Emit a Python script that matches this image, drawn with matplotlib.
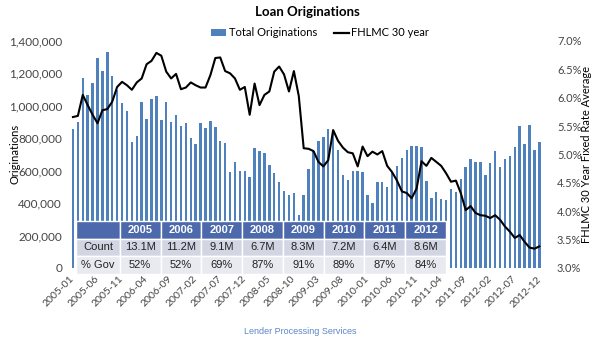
import matplotlib
matplotlib.use("Agg")
import matplotlib.pyplot as plt
from matplotlib.lines import Line2D
from matplotlib.patches import Patch
from matplotlib.ticker import FuncFormatter
import numpy as np

# Monthly categories, Jan 2005 - Dec 2012
months = [f"{y}-{m:02d}" for y in range(2005, 2013) for m in range(1, 13)]

# Total loan originations per month
originations = [
    855000, 902000, 1170000, 1067000, 1139000, 1293000, 1215000, 1330000, 1186000, 1098000, 1016000, 970000,
    779000, 816000, 1022000, 917000, 1040000, 1061000, 913000, 1024000, 902000, 944000, 876000, 892000,
    804000, 765000, 892000, 861000, 907000, 867000, 785000, 769000, 590000, 652000, 598000, 598000,
    560000, 738000, 723000, 711000, 635000, 584000, 532000, 475000, 450000, 461000, 327000, 450000,
    612000, 720000, 785000, 810000, 855000, 852000, 728000, 574000, 545000, 598000, 598000, 592000,
    448000, 403000, 531000, 531000, 499000, 590000, 630000, 681000, 728000, 750000, 750000, 744000,
    535000, 430000, 471000, 424000, 419000, 485000, 467000, 547000, 621000, 670000, 656000, 654000,
    574000, 646000, 722000, 621000, 670000, 693000, 744000, 876000, 767000, 880000, 728000, 777000,
]

# FHLMC 30-year fixed rate, monthly average (%)
fhlmc_rate = [
    5.66, 5.68, 6.05, 5.87, 5.70, 5.55, 5.78, 5.80, 5.93, 6.19, 6.28, 6.22,
    6.14, 6.27, 6.34, 6.59, 6.65, 6.79, 6.74, 6.46, 6.34, 6.42, 6.15, 6.18,
    6.27, 6.22, 6.18, 6.18, 6.40, 6.70, 6.71, 6.47, 6.43, 6.34, 6.14, 6.19,
    5.70, 6.25, 5.87, 6.05, 6.11, 6.46, 6.55, 6.41, 6.11, 6.47, 6.03, 5.11,
    5.10, 5.06, 4.87, 4.79, 4.90, 5.43, 5.24, 5.12, 5.04, 5.02, 4.79, 5.14,
    4.97, 5.05, 5.00, 5.06, 4.80, 4.69, 4.54, 4.35, 4.32, 4.23, 4.40, 4.88,
    4.80, 4.94, 4.87, 4.80, 4.67, 4.52, 4.54, 4.32, 4.02, 4.09, 3.97, 3.93,
    3.92, 3.88, 3.93, 3.85, 3.73, 3.64, 3.53, 3.58, 3.46, 3.36, 3.34, 3.38,
]

# Annual summary table
years = ["2005", "2006", "2007", "2008", "2009", "2010", "2011", "2012"]
annual_count = ["13.1M", "11.2M", "9.1M", "6.7M", "8.3M", "7.2M", "6.4M", "8.6M"]
gov_share = ["52%", "52%", "69%", "87%", "91%", "89%", "87%", "84%"]

BAR_BLUE = "#4F81BD"
TICK_GREY = "#454545"
SANS = ["Lato", "DejaVu Sans"]
ARIAL = ["Liberation Sans", "DejaVu Sans"]

fig = plt.figure(figsize=(6.0, 3.43), dpi=100)
ax = fig.add_axes([0.1175, 0.2187, 0.7855, 0.6618])

x = np.arange(len(months))
ax.bar(x, originations, width=0.5, color=BAR_BLUE, zorder=2)
ax.set_xlim(-0.5, len(months) - 0.5)
ax.set_ylim(0, 1_400_000)
ax.set_yticks(np.arange(0, 1_400_001, 200_000))
ax.yaxis.set_major_formatter(FuncFormatter(lambda v, p: f"{int(v):,}"))

ax.set_xticks(x[::5])
ax.set_xticklabels(months[::5], rotation=45, ha="right", va="center",
                   rotation_mode="anchor", family=SANS, fontsize=7.5, color=TICK_GREY)
ax.tick_params(axis="x", length=0, pad=7)
ax.tick_params(axis="y", length=0, pad=6, labelsize=8.5, labelcolor=TICK_GREY)
for lbl in ax.get_yticklabels():
    lbl.set_family(SANS)

ax2 = ax.twinx()
ax2.plot(x, fhlmc_rate, color="black", lw=1.5, zorder=3)
ax2.set_ylim(3.0, 7.0)
ax2.set_yticks(np.arange(3.0, 7.01, 0.5))
ax2.yaxis.set_major_formatter(FuncFormatter(lambda v, p: f"{v:.1f}%"))
ax2.tick_params(axis="y", length=0, pad=11, labelsize=8, labelcolor=TICK_GREY)
for lbl in ax2.get_yticklabels():
    lbl.set_family(SANS)

for a in (ax, ax2):
    for s in a.spines.values():
        s.set_visible(False)

# Summary table overlaid on the lower-left of the plot
cell_text = [[""] + years, ["Count"] + annual_count, ["% Gov"] + gov_share]
col_w = [44] + [41] * len(years)
tbl = ax.table(cellText=cell_text, colWidths=[w / sum(col_w) for w in col_w],
               cellLoc="center", bbox=[0.0117, -0.026, 0.785, 0.233])
tbl.auto_set_font_size(False)
tbl.set_zorder(5)
row_fill = ["#4C69AB", "#D2D6E3", "#E8EAF0"]
for (r, c), cell in tbl.get_celld().items():
    cell.set_facecolor(row_fill[r])
    cell.set_edgecolor("white")
    cell.set_linewidth(1.0)
    cell.set_clip_on(False)
    t = cell.get_text()
    t.set_family(ARIAL)
    t.set_fontsize(8)
    if r == 0:
        t.set_color("white")
        t.set_fontweight("bold")
    else:
        t.set_color("#222222")

fig.text(307 / 600, 1 - 12 / 343, "Loan Originations", ha="center", va="center",
         fontsize=9.5, fontweight="bold", family=SANS)

handles = [Patch(facecolor=BAR_BLUE, edgecolor="none", label="Total Originations"),
           Line2D([], [], color="black", lw=1.6, label="FHLMC 30 year")]
fig.legend(handles=handles, loc="center", bbox_to_anchor=(320 / 600, 1 - 33 / 343),
           ncol=2, frameon=False, prop={"family": SANS, "size": 8},
           handlelength=1.4, handleheight=0.6, handletextpad=0.2, columnspacing=1.5)

fig.text(15 / 600, 1 - 154 / 343, "Originations", rotation=90, ha="center", va="center",
         fontsize=8, family=SANS)
fig.text(587 / 600, 1 - 154 / 343, "FHLMC 30 Year Fixed Rate Average", rotation=90,
         ha="center", va="center", fontsize=8, family=SANS)

fig.text(300 / 600, 1 - 331 / 343, "Lender Processing Services", ha="center", va="center",
         fontsize=6.5, family=ARIAL, color="#5A86C5")

fig.savefig("out.png", dpi=100)
